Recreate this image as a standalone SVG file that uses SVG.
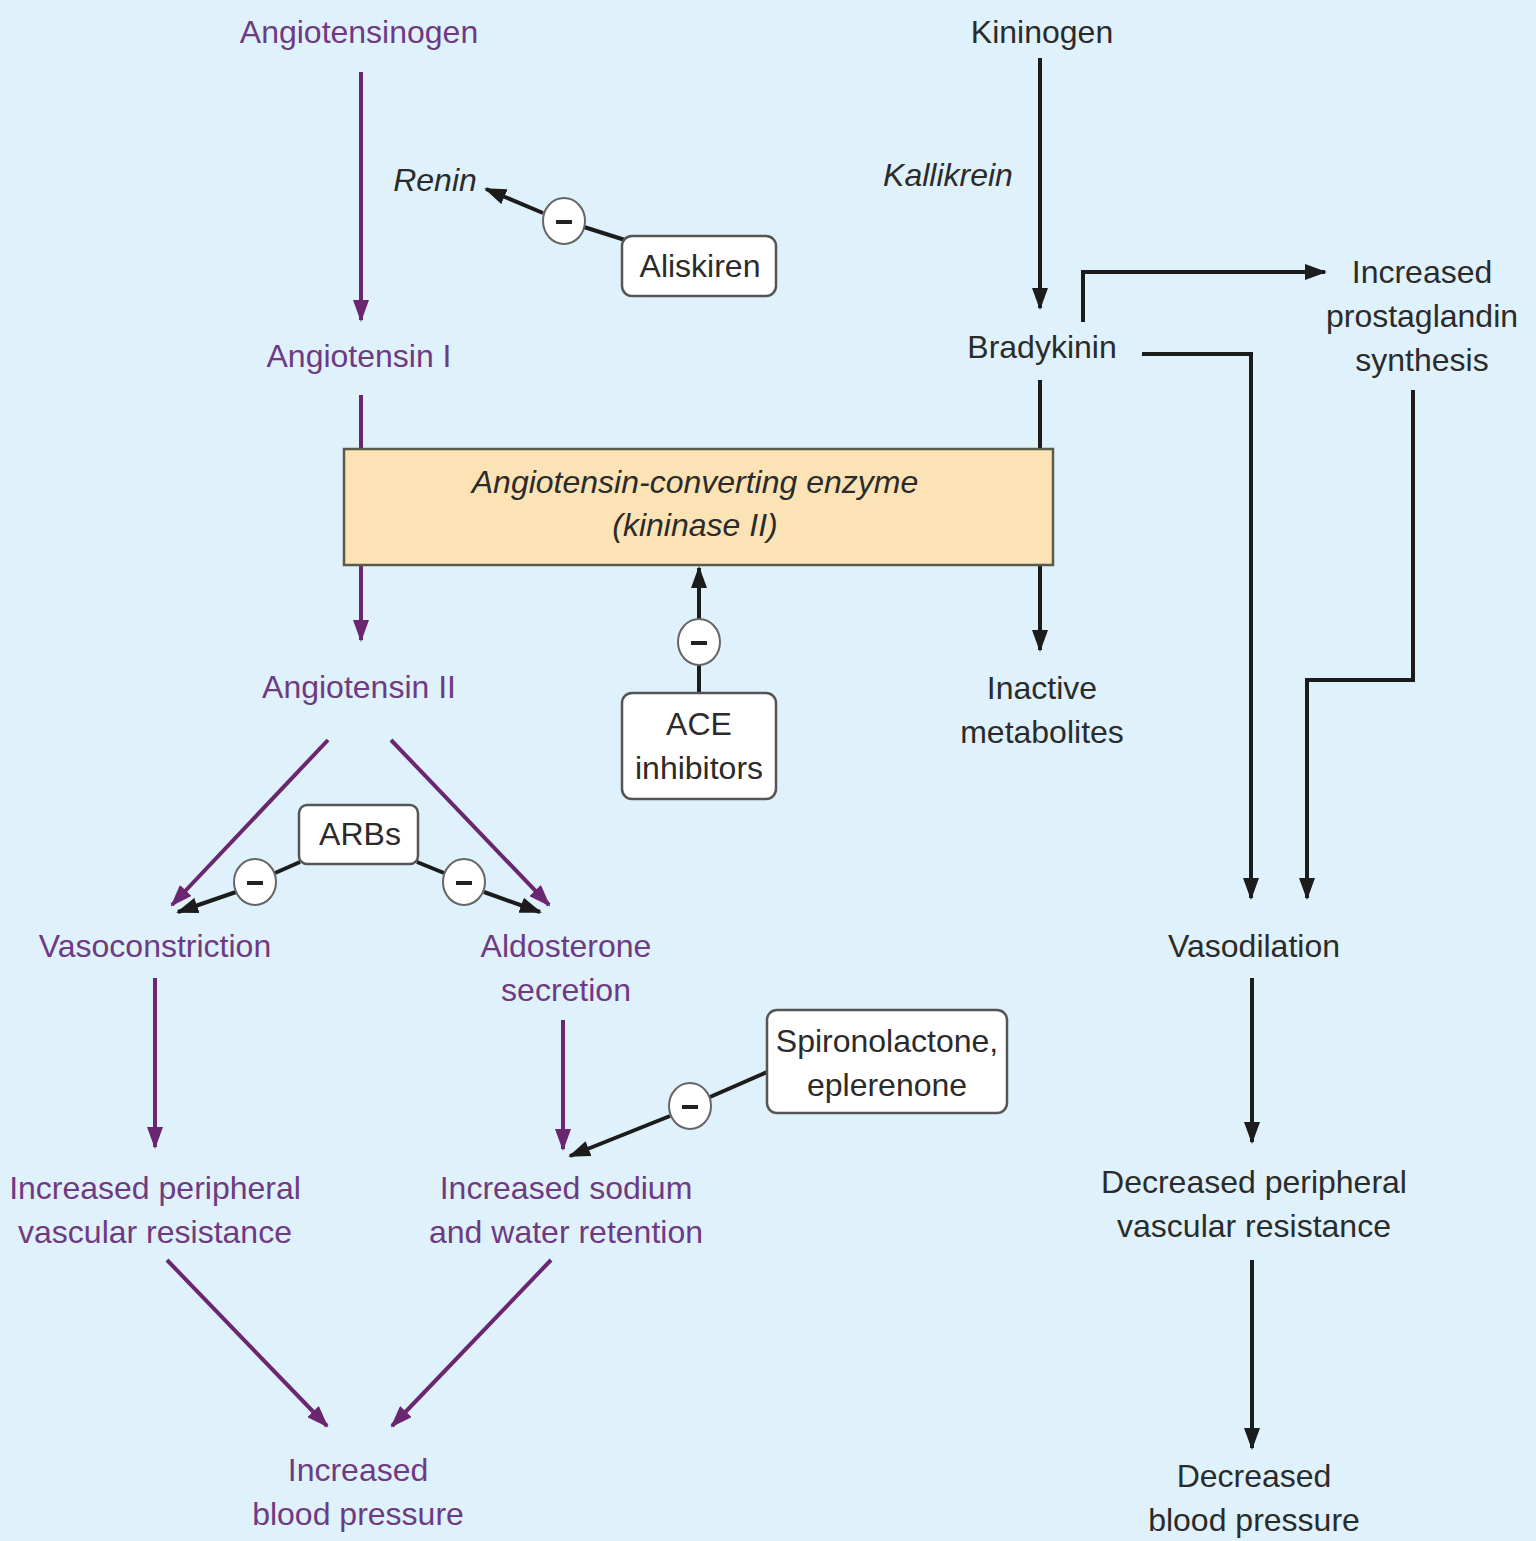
<svg xmlns="http://www.w3.org/2000/svg" width="1536" height="1541" viewBox="0 0 1536 1541">
<defs>
<style>
text{font-family:"Liberation Sans",Arial,sans-serif;font-size:32px;text-anchor:middle}
.p{fill:#6e3a82}
.k{fill:#2b2b2b}
.i{font-style:italic}
.pl{stroke:#6a2670;stroke-width:4;fill:none}
.bl{stroke:#1c1c1c;stroke-width:4;fill:none}
.bx{fill:#ffffff;stroke:#555;stroke-width:2.5}
.c{fill:#ffffff;stroke:#666;stroke-width:2}
.m{stroke:#222;stroke-width:4}
</style>
<marker id="ap" markerWidth="22" markerHeight="16" refX="20" refY="8" orient="auto" markerUnits="userSpaceOnUse"><path d="M0,0 L22,8 L0,16 Z" fill="#6a2670"/></marker>
<marker id="ab" markerWidth="22" markerHeight="16" refX="20" refY="8" orient="auto" markerUnits="userSpaceOnUse"><path d="M0,0 L22,8 L0,16 Z" fill="#1c1c1c"/></marker>
</defs>
<rect x="0" y="0" width="1536" height="1541" fill="#dff1fb"/>

<g id="connectors">
<line class="pl" x1="361" y1="72" x2="361" y2="320" marker-end="url(#ap)"/>
<line class="pl" x1="361" y1="395" x2="361" y2="450"/>
<line class="pl" x1="361" y1="565" x2="361" y2="640" marker-end="url(#ap)"/>
<line class="pl" x1="328" y1="740" x2="172" y2="905" marker-end="url(#ap)"/>
<line class="pl" x1="391" y1="740" x2="549" y2="905" marker-end="url(#ap)"/>
<line class="pl" x1="155" y1="978" x2="155" y2="1147" marker-end="url(#ap)"/>
<line class="pl" x1="563" y1="1020" x2="563" y2="1149" marker-end="url(#ap)"/>
<line class="pl" x1="167" y1="1260" x2="327" y2="1426" marker-end="url(#ap)"/>
<line class="pl" x1="551" y1="1260" x2="392" y2="1426" marker-end="url(#ap)"/>

<line class="bl" x1="625" y1="240" x2="584" y2="227"/>
<line class="bl" x1="543" y1="213" x2="486" y2="189" marker-end="url(#ab)"/>
<line class="bl" x1="699" y1="693" x2="699" y2="664"/>
<line class="bl" x1="699" y1="620" x2="699" y2="568" marker-end="url(#ab)"/>
<line class="bl" x1="300" y1="862" x2="275" y2="873"/>
<line class="bl" x1="236" y1="892" x2="178" y2="912" marker-end="url(#ab)"/>
<line class="bl" x1="417" y1="862" x2="444" y2="873"/>
<line class="bl" x1="484" y1="892" x2="540" y2="912" marker-end="url(#ab)"/>
<line class="bl" x1="767" y1="1072" x2="710" y2="1097"/>
<line class="bl" x1="670" y1="1116" x2="570" y2="1156" marker-end="url(#ab)"/>

<line class="bl" x1="1040" y1="58" x2="1040" y2="308" marker-end="url(#ab)"/>
<path class="bl" d="M1083,322 L1083,272 L1325,272" stroke-width="5" marker-end="url(#ab)"/>
<path class="bl" d="M1142,354 L1251,354 L1251,898" marker-end="url(#ab)"/>
<line class="bl" x1="1040" y1="380" x2="1040" y2="450"/>
<line class="bl" x1="1040" y1="565" x2="1040" y2="650" marker-end="url(#ab)"/>
<path class="bl" d="M1413,390 L1413,680 L1307,680 L1307,898" marker-end="url(#ab)"/>
<line class="bl" x1="1252" y1="978" x2="1252" y2="1142" marker-end="url(#ab)"/>
<line class="bl" x1="1252" y1="1260" x2="1252" y2="1448" marker-end="url(#ab)"/>
</g>

<g id="angiotensinogen"><text class="p" x="359" y="43">Angiotensinogen</text></g>
<g id="renin"><text class="k i" x="435" y="191">Renin</text></g>
<g id="aliskiren"><rect class="bx" x="622" y="236" width="154" height="60" rx="10"/><text class="k" x="700" y="277">Aliskiren</text></g>
<g id="minus-renin"><ellipse class="c" cx="564" cy="221" rx="21" ry="23"/><line class="m" x1="556" y1="222" x2="572" y2="222"/></g>
<g id="angiotensin-i"><text class="p" x="359" y="367">Angiotensin I</text></g>
<g id="ace"><rect x="344" y="449" width="709" height="116" fill="#fbe3b6" stroke="#5a5a4a" stroke-width="2.5"/><text class="k i" x="695" y="493">Angiotensin-converting enzyme</text><text class="k i" x="695" y="536">(kininase II)</text></g>
<g id="angiotensin-ii"><text class="p" x="359" y="698">Angiotensin II</text></g>
<g id="ace-inhibitors"><rect class="bx" x="622" y="693" width="154" height="106" rx="10"/><text class="k" x="699" y="735">ACE</text><text class="k" x="699" y="779">inhibitors</text></g>
<g id="minus-ace"><ellipse class="c" cx="699" cy="642" rx="21" ry="23"/><line class="m" x1="691" y1="643" x2="707" y2="643"/></g>
<g id="arbs"><rect class="bx" x="299" y="805" width="119" height="59" rx="8"/><text class="k" x="360" y="845">ARBs</text></g>
<g id="minus-arb-left"><ellipse class="c" cx="255" cy="882" rx="21" ry="23"/><line class="m" x1="247" y1="883" x2="263" y2="883"/></g>
<g id="minus-arb-right"><ellipse class="c" cx="464" cy="882" rx="21" ry="23"/><line class="m" x1="456" y1="883" x2="472" y2="883"/></g>
<g id="vasoconstriction"><text class="p" x="155" y="957">Vasoconstriction</text></g>
<g id="aldosterone"><text class="p" x="566" y="957">Aldosterone</text><text class="p" x="566" y="1001">secretion</text></g>
<g id="spironolactone"><rect class="bx" x="767" y="1010" width="240" height="103" rx="10"/><text class="k" x="887" y="1052">Spironolactone,</text><text class="k" x="887" y="1096">eplerenone</text></g>
<g id="minus-spiro"><ellipse class="c" cx="690" cy="1106" rx="21" ry="23"/><line class="m" x1="682" y1="1107" x2="698" y2="1107"/></g>
<g id="inc-pvr"><text class="p" x="155" y="1199">Increased peripheral</text><text class="p" x="155" y="1243">vascular resistance</text></g>
<g id="inc-sodium"><text class="p" x="566" y="1199">Increased sodium</text><text class="p" x="566" y="1243">and water retention</text></g>
<g id="inc-bp"><text class="p" x="358" y="1481">Increased</text><text class="p" x="358" y="1525">blood pressure</text></g>

<g id="kininogen"><text class="k" x="1042" y="43">Kininogen</text></g>
<g id="kallikrein"><text class="k i" x="948" y="186">Kallikrein</text></g>
<g id="bradykinin"><text class="k" x="1042" y="358">Bradykinin</text></g>
<g id="prostaglandin"><text class="k" x="1422" y="283">Increased</text><text class="k" x="1422" y="327">prostaglandin</text><text class="k" x="1422" y="371">synthesis</text></g>
<g id="inactive"><text class="k" x="1042" y="699">Inactive</text><text class="k" x="1042" y="743">metabolites</text></g>
<g id="vasodilation"><text class="k" x="1254" y="957">Vasodilation</text></g>
<g id="dec-pvr"><text class="k" x="1254" y="1193">Decreased peripheral</text><text class="k" x="1254" y="1237">vascular resistance</text></g>
<g id="dec-bp"><text class="k" x="1254" y="1487">Decreased</text><text class="k" x="1254" y="1531">blood pressure</text></g>
</svg>
